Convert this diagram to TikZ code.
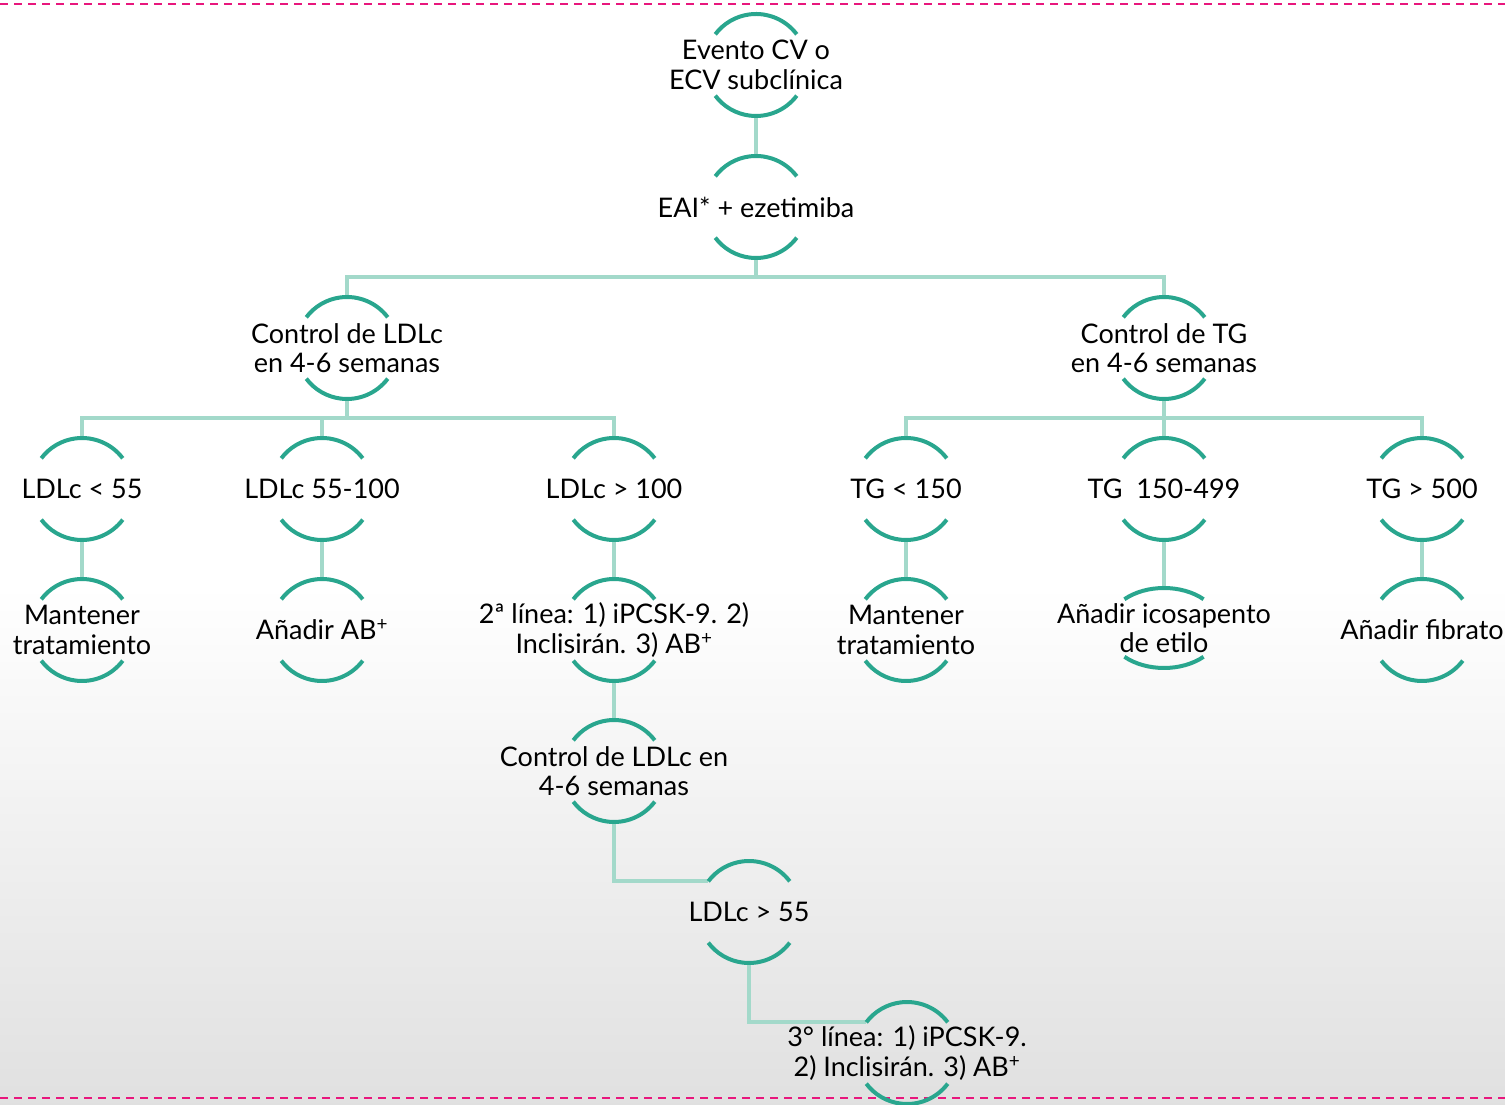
\documentclass[tikz,border=0pt]{standalone}
\usepackage{fontspec}
\setmainfont{Lato}
\usetikzlibrary{calc,shapes.geometric}
\definecolor{arcteal}{HTML}{29A68E}
\definecolor{lineteal}{HTML}{A3D9CA}
\definecolor{dashpink}{HTML}{E8177D}
\pgfdeclarelayer{back}
\pgfdeclarelayer{links}
\pgfsetlayers{back,links,main}
\tikzset{
  ringbox/.style={ellipse, inner sep=0pt, draw=none},
  txt/.style={align=center, font=\fontsize{27}{29.5}\selectfont, inner sep=0pt, text=black},
  arcline/.style={draw=arcteal, line width=4pt},
  conn/.style={draw=lineteal, line width=4pt},
  borderdash/.style={draw=dashpink, line width=2.5pt, dash pattern=on 8.3pt off 5.7pt},
}
% name, x, y, rx, ry, half angle, text
\newcommand\ringnode[7]{%
  \node[ringbox, minimum width=2*#4pt, minimum height=2*#5pt] (#1) at (#2,#3) {};
  \node[txt] (#1t) at (#1.center) {#7};
  \draw[arcline] ([shift={(#6:#4 and #5)}]#1.center) arc[start angle=#6, end angle=180-#6, x radius=#4, y radius=#5];
  \draw[arcline] ([shift={(-#6:#4 and #5)}]#1.center) arc[start angle=-#6, end angle=-180+#6, x radius=#4, y radius=#5];
  \coordinate (#1-tl) at ([shift={(180-#6:#4 and #5)}]#1.center);
}
\begin{document}
\begin{tikzpicture}[x=1pt,y=1pt]
\useasboundingbox (0,0) rectangle (1505,1104);
\begin{pgfonlayer}{back}
\fill[white] (0,0) rectangle (1505,1104);
\shade[top color=white, bottom color=gray!24] (0,0) rectangle (1505,519);
\draw[borderdash] (0,1100) -- (1505,1100);
\draw[borderdash] (0,6) -- (1505,6);
\end{pgfonlayer}

% rings with text
\ringnode{n1}{756}{1039}{51}{51}{37}{Evento CV o\\ECV subclínica}
\ringnode{n2}{756}{897}{51}{51}{37}{EAI* + ezetimiba}
\ringnode{n3}{347}{756}{51}{51}{37}{Control de LDLc\\en 4-6 semanas}
\ringnode{n4}{1164}{756}{51}{51}{37}{Control de TG\\en 4-6 semanas}
\ringnode{a1}{82}{615}{51}{51}{37}{LDLc < 55}
\ringnode{a2}{322}{615}{51}{51}{37}{LDLc 55-100}
\ringnode{a3}{614}{615}{51}{51}{37}{LDLc > 100}
\ringnode{b1}{906}{615}{51}{51}{37}{TG < 150}
\ringnode{b2}{1164}{615}{51}{51}{37}{TG~~150-499}
\ringnode{b3}{1422}{615}{51}{51}{37}{TG > 500}
\ringnode{c1}{82}{474}{51}{51}{37}{Mantener\\tratamiento}
\ringnode{c2}{322}{474}{51}{51}{37}{Añadir AB\textsuperscript{+}}
\ringnode{c3}{614}{474}{51}{51}{37}{2ª línea: 1) iPCSK-9. 2)\\Inclisirán. 3) AB\textsuperscript{+}}
\ringnode{g1}{906}{474}{51}{51}{37}{Mantener\\tratamiento}
\ringnode{g2}{1164}{476}{57}{40}{46}{Añadir icosapento\\de etilo}
\ringnode{g3}{1422}{474}{51}{51}{37}{Añadir fibrato}
\ringnode{d1}{614}{333}{51}{51}{37}{Control de LDLc en\\4-6 semanas}
\ringnode{e1}{749}{192}{51}{51}{37}{LDLc > 55}
\ringnode{f1}{907}{51}{51}{51}{37}{3° línea: 1) iPCSK-9.\\ 2) Inclisirán. 3) AB\textsuperscript{+}}

% connectors
\begin{pgfonlayer}{links}
\draw[conn] (n1.south) -- (n2.north);
\draw[conn] (n2.south) -- ++(0,-19) coordinate (j1);
\draw[conn] (n3.north) |- (j1) -| (n4.north);
\draw[conn] (n3.south) -- ++(0,-19) coordinate (j2);
\draw[conn] (a1.north) |- (j2) -| (a3.north);
\draw[conn] (a2.north) -- (a2.north |- j2);
\draw[conn] (n4.south) -- (b2.north);
\draw[conn] (b1.north) |- (b2.north |- j2) -| (b3.north);
\draw[conn] (a1.south) -- (c1.north);
\draw[conn] (a2.south) -- (c2.north);
\draw[conn] (a3.south) -- (c3.north);
\draw[conn] (b1.south) -- (g1.north);
\draw[conn] (b2.south) -- (g2.north);
\draw[conn] (b3.south) -- (g3.north);
\draw[conn] (c3.south) -- (d1.north);
\draw[conn] (d1.south) |- (e1-tl);
\draw[conn] (e1.south) |- (f1-tl);
\end{pgfonlayer}
\end{tikzpicture}
\end{document}
